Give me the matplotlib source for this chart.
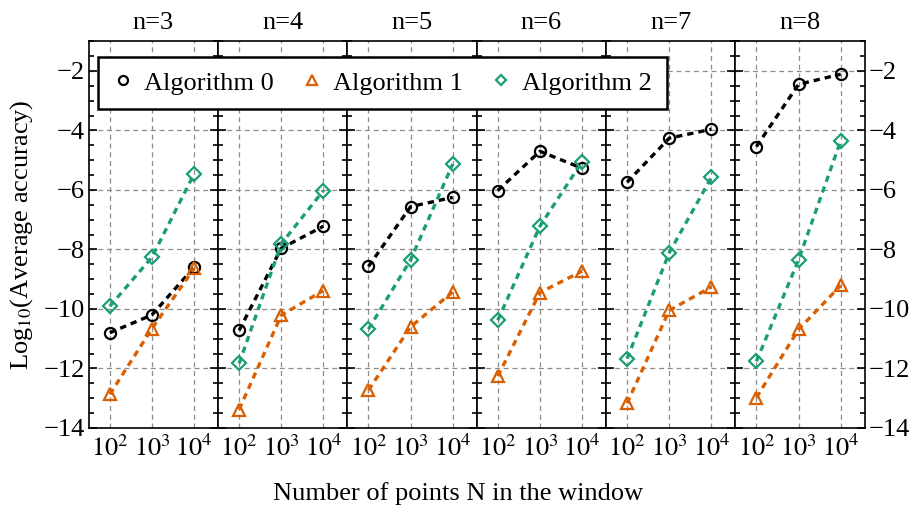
import matplotlib
matplotlib.use("Agg")
import matplotlib.pyplot as plt
import numpy as np
from matplotlib.lines import Line2D
from matplotlib.ticker import MultipleLocator, FixedLocator

plt.rcParams['font.family'] = ['Liberation Serif', 'DejaVu Serif']
plt.rcParams['mathtext.fontset'] = 'stix'

N = [1e2, 1e3, 1e4]
n_values = [3, 4, 5, 6, 7, 8]

# log10 accuracy, one row per panel (n=3..8)
alg0 = [[-10.8, -10.2, -8.6],
        [-10.72, -7.96, -7.22],
        [-8.57, -6.56, -6.25],
        [-6.02, -4.7, -5.27],
        [-5.74, -4.26, -3.96],
        [-4.54, -2.45, -2.11]]
alg1 = [[-12.87, -10.66, -8.64],
        [-13.38, -10.21, -9.38],
        [-12.73, -10.6, -9.43],
        [-12.26, -9.45, -8.73],
        [-13.17, -10.05, -9.26],
        [-12.98, -10.69, -9.21]]
alg2 = [[-9.91, -8.26, -5.46],
        [-11.83, -7.81, -6.02],
        [-10.68, -8.35, -5.13],
        [-10.38, -7.22, -5.05],
        [-11.67, -8.11, -5.58],
        [-11.76, -8.35, -4.35]]

labels = ['Algorithm 0', 'Algorithm 1', 'Algorithm 2']
colors = ['black', '#d95f02', '#1b9e77']
markers = ['o', '^', 'D']
msizes = [8, 9, 7]
fs = 19

fig, axes = plt.subplots(1, 6, sharey=True, figsize=(9.15, 5.15), dpi=100)
fig.subplots_adjust(left=0.097, right=0.945, top=0.920, bottom=0.169, wspace=0)

for i, ax in enumerate(axes):
    for k, data in enumerate([alg0, alg1, alg2]):
        ax.plot(N, data[i], color=colors[k], marker=markers[k], ms=msizes[k],
                mfc='none', mew=1.6, lw=2.4, dashes=(1.9, 1.5))
    ax.set_xscale('log')
    ax.set_xlim(10**1.5, 10**4.57)
    ax.set_ylim(-14, -1)
    ax.xaxis.set_major_locator(FixedLocator(N))
    ax.xaxis.set_minor_locator(FixedLocator([]))
    ax.set_xticklabels([r'$10^2$', r'$10^3$', r'$10^4$'])
    ax.yaxis.set_major_locator(MultipleLocator(2))
    ax.yaxis.set_minor_locator(MultipleLocator(0.5))
    ax.grid(True, which='major', ls=(0, (4, 3)), color='#8c8c8c', lw=0.9)
    ax.tick_params(axis='both', which='both', direction='in', left=True,
                   right=True, top=False, labelsize=fs, width=1.2)
    ax.tick_params(axis='y', which='major', length=6, pad=3)
    ax.tick_params(axis='y', which='minor', length=3.5)
    ax.tick_params(axis='x', which='major', length=0, pad=5)
    for s in ax.spines.values():
        s.set_linewidth(1.2)
    ax.set_title('n=%d' % n_values[i], fontsize=fs, pad=9)
    if i != 0:
        ax.tick_params(axis='y', labelleft=False)

axes[-1].tick_params(axis='y', labelright=True)
axes[0].set_ylabel(r'Log$_{10}$(Average accuracy)', fontsize=fs, labelpad=6)
fig.text(0.501, 0.03, 'Number of points N in the window', ha='center', fontsize=fs)

handles = [Line2D([], [], color=colors[k], marker=markers[k], ms=msizes[k] - 1.5,
                  mfc='none', mew=1.6, ls='none') for k in range(3)]
leg = fig.legend(handles, labels, ncol=3, loc='upper left',
                 bbox_to_anchor=(0.107, 0.89), fontsize=fs, frameon=True,
                 fancybox=False, shadow=False, handlelength=0.8,
                 handletextpad=0.4, columnspacing=1.05, borderpad=0.55,
                 borderaxespad=0, framealpha=1)
leg.get_frame().set_edgecolor('black')
leg.get_frame().set_linewidth(1.8)

plt.savefig('out.png', dpi=100)
